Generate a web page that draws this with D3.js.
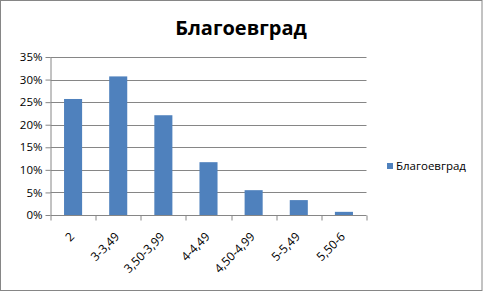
<!DOCTYPE html>
<html>
<head>
<meta charset="utf-8">
<script src="https://cdn.jsdelivr.net/npm/d3@7"></script>
<style>
  body { margin: 0; background: #fff; }
  text { font-family: "Open Sans", "DejaVu Sans", sans-serif; }
</style>
</head>
<body>
<div id="chart"></div>
<script>
// data
const categories = ["2", "3-3,49", "3,50-3,99", "4-4,49", "4,50-4,99", "5-5,49", "5,50-6"];
const values = [0.257, 0.307, 0.221, 0.117, 0.055, 0.033, 0.007];
const yTicks = [0, 0.05, 0.10, 0.15, 0.20, 0.25, 0.30, 0.35];
const seriesName = "Благоевград";

const W = 483, H = 293;
const margin = {left: 50.5, top: 57, right: 116.5, bottom: 78};
const width = W - margin.left - margin.right;
const height = H - margin.top - margin.bottom;

const svg = d3.select("#chart").append("svg")
    .attr("width", W)
    .attr("height", H);

// chart border
svg.append("rect")
    .attr("x", 0.5).attr("y", 0.5)
    .attr("width", W - 1.5).attr("height", H - 3)
    .attr("fill", "#fff")
    .attr("stroke", "#868686");

const g = svg.append("g")
    .attr("transform", "translate(" + margin.left + "," + margin.top + ")");

const x = d3.scaleBand()
    .domain(categories)
    .range([0, width])
    .paddingInner(0.6)
    .paddingOuter(0.3);

const y = d3.scaleLinear()
    .domain([0, 0.35])
    .range([height, 0]);

// gridlines
g.selectAll(".grid")
    .data(yTicks.slice(1))
    .enter().append("line")
    .attr("class", "grid")
    .attr("x1", 0).attr("x2", width)
    .attr("y1", d => Math.round(y(d)) + 0.5)
    .attr("y2", d => Math.round(y(d)) + 0.5)
    .attr("stroke", "#868686");

// bars
g.selectAll(".bar")
    .data(values)
    .enter().append("rect")
    .attr("class", "bar")
    .attr("x", (d, i) => x(categories[i]))
    .attr("width", x.bandwidth())
    .attr("y", d => y(d))
    .attr("height", d => height - y(d))
    .attr("fill", "#4F81BD");

// y axis
const yAxis = d3.axisLeft(y)
    .tickValues(yTicks)
    .tickSize(5)
    .tickPadding(3)
    .tickFormat(d => Math.round(d * 100) + "%");

g.append("g")
    .attr("class", "y-axis")
    .call(yAxis)
    .call(a => a.select(".domain").attr("d", "M0.5," + y(0.35) + "V" + height))
    .call(a => a.selectAll("path, line").attr("stroke", "#868686"))
    .call(a => a.selectAll("text").attr("font-size", 11.5).attr("fill", "#000")
        .style("font-family", "'Open Sans', sans-serif"));

// x axis
const band = width / categories.length;
const xAxis = g.append("g")
    .attr("transform", "translate(0," + (Math.round(height) + 0.5) + ")");

xAxis.append("line")
    .attr("x1", 0).attr("x2", width)
    .attr("stroke", "#868686");

xAxis.selectAll(".tick")
    .data(d3.range(categories.length + 1))
    .enter().append("line")
    .attr("x1", i => Math.round(i * band) + 0.5)
    .attr("x2", i => Math.round(i * band) + 0.5)
    .attr("y1", 0).attr("y2", 5)
    .attr("stroke", "#868686");

xAxis.selectAll(".xlabel")
    .data(categories)
    .enter().append("text")
    .attr("class", "xlabel")
    .attr("text-anchor", "end")
    .attr("font-size", 12)
    .attr("transform", d => "translate(" + (x(d) + x.bandwidth() / 2 + 2) + ",22) rotate(-45)")
    .text(d => d);

// title
svg.append("text")
    .attr("x", 241)
    .attr("y", 35)
    .attr("text-anchor", "middle")
    .attr("font-size", 20)
    .attr("font-weight", "bold")
    .text(seriesName);

// legend
const legend = svg.append("g")
    .attr("transform", "translate(387,163)");
legend.append("rect")
    .attr("width", 6).attr("height", 6)
    .attr("fill", "#4F81BD");
legend.append("text")
    .attr("x", 9)
    .attr("y", 6.5)
    .attr("font-size", 11.5)
    .text(seriesName);
</script>
</body>
</html>
